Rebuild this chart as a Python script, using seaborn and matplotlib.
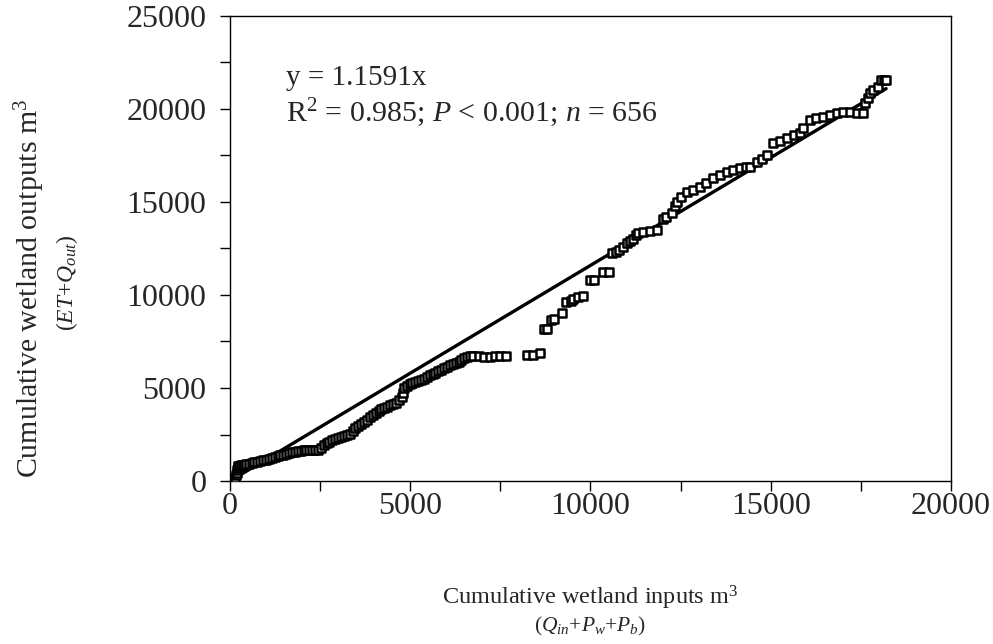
import numpy as np
import pandas as pd
import matplotlib
matplotlib.use('Agg')
import matplotlib.pyplot as plt
from matplotlib.ticker import MultipleLocator
import seaborn as sns

# cumulative wetland inputs (x) and outputs (y), m3
inputs_m3 = [
    150, 170, 190, 200, 210, 230, 260, 300, 350, 400,
    450, 520, 600, 680, 760, 840, 920, 1000, 1080, 1160, 1240, 1320, 1400,
    1480, 1560, 1640, 1720, 1800, 1880, 1960, 2040, 2120, 2200, 2280, 2360, 2440,
    2520, 2600, 2680, 2760, 2840, 2920, 3000, 3080, 3160, 3240, 3320, 3400,
    3480, 3560, 3640, 3720, 3800, 3880, 3960, 4040, 4120, 4200, 4280, 4360,
    4440, 4520, 4600, 4680, 4760, 4800, 4820,
    4900, 4980, 5060, 5140, 5220, 5300, 5380, 5460, 5540, 5620, 5700, 5780,
    5860, 5940, 6020, 6100, 6180, 6260, 6340, 6420, 6500, 6580, 6660, 6740,
    6900, 7050, 7200, 7350, 7500, 7650, 8240, 8400, 8600,
    8700, 8800, 8900, 9000, 9210, 9330, 9450, 9520, 9650, 9790, 9990, 10100,
    10350, 10500, 10600, 10700, 10800, 10900, 11000, 11100, 11180, 11250,
    11320, 11450, 11650, 11850, 12000, 12100, 12260, 12340, 12400,
    12500, 12680, 12850, 13040, 13200, 13400, 13600, 13790, 13950, 14150,
    14300, 14420, 14620, 14750, 14900, 15060, 15250, 15450, 15650, 15810,
    15900, 16090, 16250, 16450, 16650, 16840, 17000, 17200, 17400, 17560,
    17620, 17700, 17750, 17850, 17970, 18050, 18150, 18200,
]
outputs_m3 = [
    160, 300, 450, 600, 700, 780, 820, 840, 850, 870,
    900, 930, 960, 1000, 1030, 1070, 1110, 1150, 1200, 1250, 1290, 1330, 1380,
    1420, 1460, 1500, 1540, 1560, 1590, 1620, 1650, 1660, 1670, 1670, 1680, 1690,
    1800, 1950, 2050, 2110, 2180, 2250, 2310, 2360, 2420, 2470, 2550, 2680,
    2850, 2950, 3050, 3170, 3300, 3450, 3550, 3650, 3780, 3850, 3920, 3990,
    4060, 4130, 4190, 4350, 4520, 4750, 5000,
    5100, 5200, 5260, 5300, 5380, 5430, 5500, 5600, 5700, 5750, 5820, 5900,
    5970, 6050, 6150, 6240, 6300, 6350, 6400, 6500, 6600, 6670, 6700, 6720,
    6700, 6690, 6690, 6700, 6720, 6740, 6770, 6780, 6880,
    8170, 8170, 8650, 8700, 9030, 9620, 9700, 9780, 9900, 9950, 10810, 10810,
    11240, 11240, 12250, 12300, 12420, 12600, 12800, 12900, 13010, 13200,
    13330, 13400, 13440, 13500, 14080, 14200, 14410, 14800, 15000,
    15270, 15540, 15650, 15800, 16000, 16290, 16450, 16610, 16700, 16830,
    16860, 16880, 17150, 17300, 17520, 18170, 18300, 18440, 18600, 18710,
    18980, 19410, 19500, 19570, 19700, 19780, 19820, 19840, 19800, 19780,
    20320, 20600, 20860, 21000, 21180, 21550, 21560, 21560,
]
slope = 1.1591

df = pd.DataFrame({'inputs': inputs_m3, 'outputs': outputs_m3})
fit = pd.DataFrame({'inputs': [df['inputs'].min(), df['inputs'].max()]})
fit['outputs'] = slope * fit['inputs']

sns.set_style('ticks')
plt.rcParams['font.family'] = ['Liberation Serif', 'DejaVu Serif']
plt.rcParams['mathtext.fontset'] = 'custom'
plt.rcParams['mathtext.rm'] = 'Liberation Serif'
plt.rcParams['mathtext.it'] = 'Liberation Serif:italic'
plt.rcParams['mathtext.bf'] = 'Liberation Serif:bold'

fig = plt.figure(figsize=(9.93, 6.44), dpi=100)
ax = fig.add_axes([0.2316, 0.2531, 0.7261, 0.7221])

sns.scatterplot(x='inputs', y='outputs', data=df, ax=ax, marker='s', s=26,
                facecolor='white', edgecolor='black', linewidth=1.8, zorder=3)
sns.lineplot(x='inputs', y='outputs', data=fit, ax=ax, color='black',
             linewidth=2.4, zorder=2)

ax.set_xlim(0, 20000)
ax.set_ylim(0, 25000)
ax.xaxis.set_major_locator(MultipleLocator(5000))
ax.xaxis.set_minor_locator(MultipleLocator(2500))
ax.yaxis.set_major_locator(MultipleLocator(5000))
ax.yaxis.set_minor_locator(MultipleLocator(2500))
ax.tick_params(which='both', direction='out', length=7, width=1, color='black')
ax.tick_params(axis='x', which='major', labelsize=23, pad=1)
ax.tick_params(axis='y', which='major', labelsize=23, pad=10)
for s in ax.spines.values():
    s.set_visible(True)
    s.set_linewidth(1.0)
    s.set_color('black')
ax.set_xlabel('')
ax.set_ylabel('')

ax.text(0.078, 0.866, 'y = 1.1591x', transform=ax.transAxes, fontsize=21,
        va='center', ha='left')
ax.text(0.078, 0.793, 'R$^2$ = 0.985; $P$ < 0.001; $n$ = 656',
        transform=ax.transAxes, fontsize=21.5, va='center', ha='left')

fig.text(30 / 993, 1 - 288 / 644, 'Cumulative wetland outputs m$^3$',
         rotation=90, fontsize=21.5, ha='center', va='center')
fig.text(67 / 993, 1 - 283 / 644, '($ET$+$Q_{out}$)',
         rotation=90, fontsize=17, ha='center', va='center')
fig.text(590 / 993, 1 - 598 / 644, 'Cumulative wetland inputs m$^3$',
         fontsize=17.5, ha='center', va='center')
fig.text(590 / 993, 1 - 626 / 644, '($Q_{in}$+$P_w$+$P_b$)',
         fontsize=15.5, ha='center', va='center')

plt.savefig('out.png', dpi=100)
